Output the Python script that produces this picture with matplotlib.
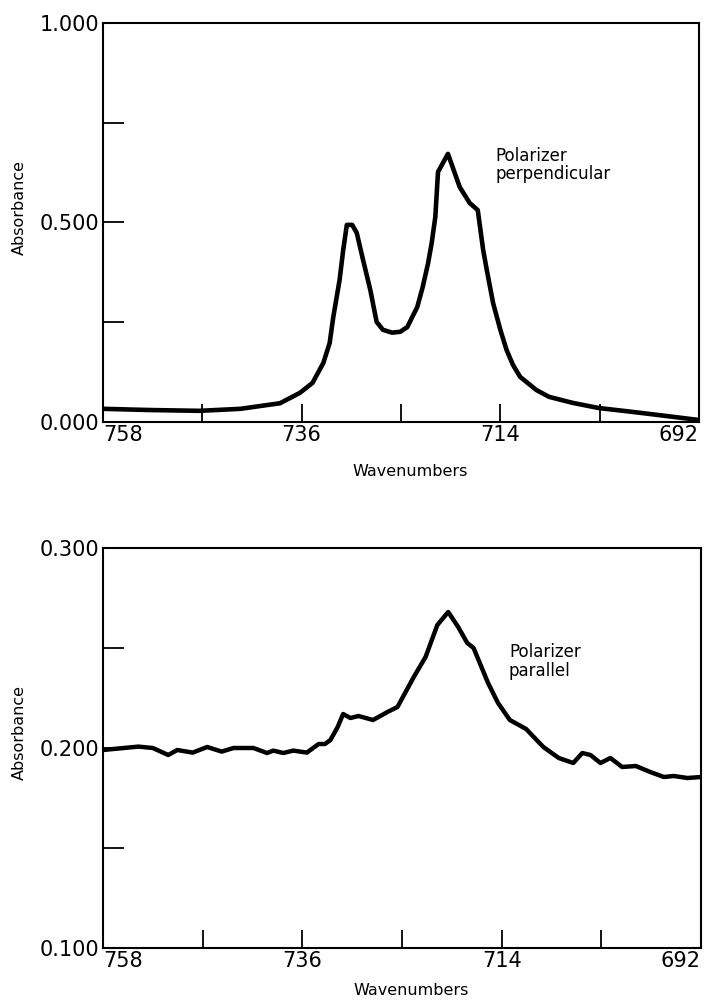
import matplotlib
matplotlib.use("Agg")
import matplotlib.pyplot as plt

# ---- data: top panel (polarizer perpendicular) ----
perp_wn = [758.0, 752.8, 747.3, 742.8, 738.4, 736.2, 734.8, 733.6, 732.9, 732.5,
           731.8, 731.4, 731.0, 730.4, 729.9, 729.2, 728.4, 727.7, 727.0, 726.0,
           725.1, 724.3, 723.8, 723.2, 722.6, 722.0, 721.6, 721.2, 720.9, 719.8,
           718.5, 717.4, 716.5, 715.9, 715.5, 714.8, 714.0, 713.3, 712.6, 711.8,
           710.0, 708.6, 706.0, 703.1, 700.0, 697.4, 692.0]
perp_abs = [0.033, 0.030, 0.028, 0.033, 0.047, 0.073, 0.098, 0.148, 0.198, 0.263,
            0.356, 0.431, 0.494, 0.494, 0.474, 0.406, 0.331, 0.251, 0.231, 0.224,
            0.226, 0.238, 0.261, 0.288, 0.338, 0.398, 0.449, 0.514, 0.627, 0.672,
            0.589, 0.549, 0.531, 0.431, 0.381, 0.298, 0.231, 0.180, 0.143, 0.113,
            0.080, 0.063, 0.048, 0.035, 0.027, 0.020, 0.005]

# ---- data: bottom panel (polarizer parallel) ----
par_wn = [758.0, 754.1, 752.5, 750.8, 749.8, 748.1, 746.5, 744.9, 743.6, 741.4,
          739.9, 739.2, 738.1, 737.0, 735.5, 734.2, 733.5, 732.9, 732.1, 731.5,
          730.7, 729.8, 728.2, 726.6, 725.5, 723.7, 722.4, 721.1, 719.9, 718.8,
          717.8, 717.1, 715.5, 714.4, 713.1, 711.3, 709.4, 707.7, 706.1, 705.1,
          704.2, 703.1, 702.0, 700.7, 699.2, 697.6, 696.1, 695.0, 693.5, 692.0]
par_abs = [0.1990, 0.2007, 0.2000, 0.1965, 0.1990, 0.1977, 0.2005, 0.1982, 0.2000, 0.2000,
           0.1975, 0.1987, 0.1975, 0.1987, 0.1977, 0.2020, 0.2020, 0.2040, 0.2105, 0.2170,
           0.2150, 0.2160, 0.2140, 0.2180, 0.2205, 0.2355, 0.2455, 0.2615, 0.2680, 0.2605,
           0.2525, 0.2500, 0.2325, 0.2225, 0.2140, 0.2095, 0.2005, 0.1950, 0.1925, 0.1975,
           0.1965, 0.1925, 0.1950, 0.1905, 0.1910, 0.1880, 0.1855, 0.1860, 0.1850, 0.1855]

x_ticks = [758, 747, 736, 725, 714, 703, 692]
x_labels = ["758", "", "736", "", "714", "", "692"]
top_yticks = [0.0, 0.25, 0.5, 0.75, 1.0]
top_ylabels = ["0.000", "", "0.500", "", "1.000"]
bot_yticks = [0.10, 0.15, 0.20, 0.25, 0.30]
bot_ylabels = ["0.100", "", "0.200", "", "0.300"]

plt.rcParams['font.family'] = ['DejaVu Sans']

fig = plt.figure(figsize=(7.16, 10.0), dpi=100)
ax1 = fig.add_axes([103/716, 1 - 422/1000, 596/716, 399/1000])
ax2 = fig.add_axes([103/716, 1 - 948/1000, 598/716, 400/1000])


def style(ax, yticks, ylabels, ylim):
    ax.set_xlim(758, 692)
    ax.set_ylim(*ylim)
    ax.set_xticks(x_ticks)
    ax.set_xticklabels(x_labels)
    ax.set_yticks(yticks)
    ax.set_yticklabels(ylabels)
    ax.tick_params(axis='x', direction='in', length=13, width=1.3, pad=2,
                   labelsize=15)
    ax.tick_params(axis='y', direction='in', length=15, width=1.3, pad=3,
                   labelsize=15)
    for s in ax.spines.values():
        s.set_linewidth(1.5)
    lbls = ax.get_xticklabels()
    lbls[0].set_horizontalalignment('left')
    lbls[-1].set_horizontalalignment('right')
    ax.set_ylabel("Absorbance", fontsize=11.5)
    ax.set_xlabel("Wavenumbers", fontsize=11.5)
    ax.yaxis.set_label_coords(-0.127, 0.538)


ax1.plot(perp_wn, perp_abs, color='black', lw=3.3, solid_joinstyle='round')
style(ax1, top_yticks, top_ylabels, (0.0, 1.0))
ax1.text(714.5, 0.69, "Polarizer\nperpendicular", fontsize=12, ha='left',
         va='top', linespacing=1.05)

ax2.plot(par_wn, par_abs, color='black', lw=3.2, solid_joinstyle='round')
style(ax2, bot_yticks, bot_ylabels, (0.1, 0.3))
ax2.text(713.2, 0.2525, "Polarizer\nparallel", fontsize=12, ha='left',
         va='top', linespacing=1.05)
ax1.xaxis.set_label_coords(0.515, -0.105)
ax2.xaxis.set_label_coords(0.515, -0.088)

fig.savefig("out.png", dpi=100)
